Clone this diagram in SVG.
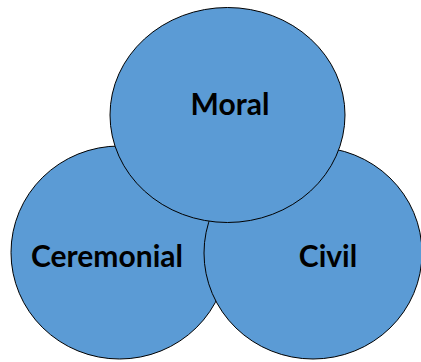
<svg xmlns="http://www.w3.org/2000/svg" width="421" height="362" viewBox="0 0 421 362">
<style>
.c{fill:#5B9BD5;stroke:#000;stroke-width:1}
.t{font-family:Lato,"Open Sans","Liberation Sans",sans-serif;font-weight:bold;font-size:30px;fill:#000;text-anchor:middle}
</style>
<rect width="421" height="362" fill="#fff"/>
<g id="ceremonial">
<ellipse class="c" cx="119.5" cy="252.5" rx="108.5" ry="106.5"/>
<text class="t" x="107" y="267">Ceremonial</text>
</g>
<g id="civil">
<ellipse class="c" cx="313" cy="253" rx="109" ry="106"/>
<text class="t" x="328" y="267">Civil</text>
</g>
<g id="moral">
<ellipse class="c" cx="227.5" cy="115" rx="117.5" ry="107.5"/>
<text class="t" x="230" y="115">Moral</text>
</g>
<g id="connectors"/>
</svg>
